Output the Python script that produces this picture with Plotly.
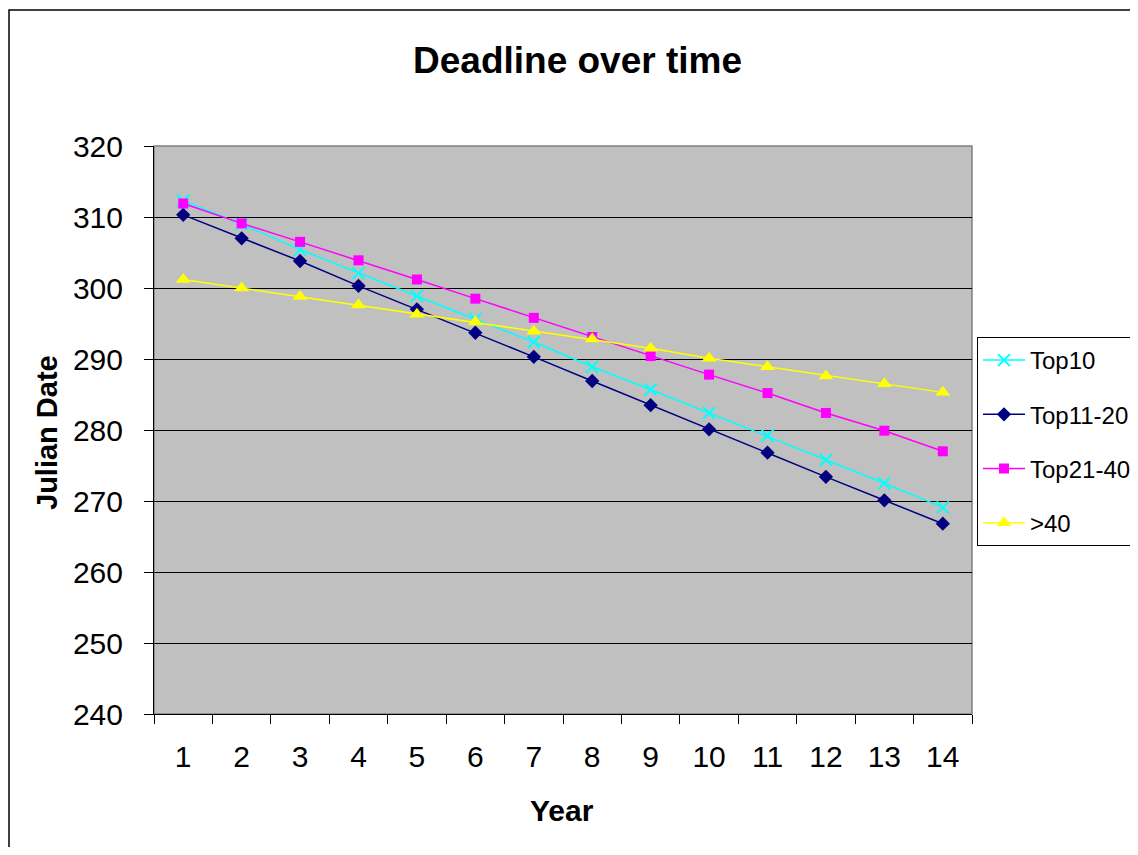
import plotly.graph_objects as go

years = [str(i) for i in range(1, 15)]
top10 = [312.3, 309.0, 305.4, 302.1, 298.9, 295.6, 292.4, 288.9, 285.7, 282.4, 279.2, 275.8, 272.5, 269.1]
top11_20 = [310.3, 307.0, 303.8, 300.3, 297.0, 293.7, 290.3, 286.9, 283.5, 280.1, 276.8, 273.4, 270.1, 266.8]
top21_40 = [311.9, 309.1, 306.5, 303.9, 301.2, 298.5, 295.8, 293.1, 290.4, 287.8, 285.2, 282.4, 279.9, 277.0]
over40 = [301.2, 300.0, 298.8, 297.6, 296.3, 295.2, 293.9, 292.8, 291.5, 290.1, 288.9, 287.6, 286.5, 285.3]

yticks = [240, 250, 260, 270, 280, 290, 300, 310, 320]

FONT = "Liberation Sans, Arial, sans-serif"

series = [
    ("Top10", top10, "#00FFFF", "x-thin", 12, 2),
    ("Top11-20", top11_20, "#000080", "diamond", 11, 0),
    ("Top21-40", top21_40, "#FF00FF", "square", 10, 0),
    (">40", over40, "#FFFF00", "triangle-up", 13, 0),
]

fig = go.Figure()
for i, (name, vals, color, sym, size, lw) in enumerate(series):
    fig.add_trace(go.Scatter(
        x=years, y=vals, name=name, mode="lines+markers",
        legendgroup=f"g{i}",
        line=dict(color=color, width=1.5),
        marker=dict(symbol=sym, size=size, color=color,
                    line=dict(color=color, width=lw)),
    ))

# page offset of 8px (body margin)
OFF = 8
L, R, T, B = 154 - OFF, 972 - OFF, 146 - OFF, 714 - OFF
W, H = 1122, 839

def px(x):
    return (x - OFF - L) / (R - L)

def py(y):
    return (B - (y - OFF)) / (B - T)

fig.update_layout(
    width=W, height=H,
    margin=dict(l=L, r=W - R, t=T, b=H - B, autoexpand=False),
    paper_bgcolor="white",
    plot_bgcolor="#C0C0C0",
    font=dict(family=FONT, color="black"),
    showlegend=True,
    legend=dict(
        xref="container", yref="container",
        x=(977 - OFF) / W, y=1 - (337 - OFF) / H, xanchor="left", yanchor="top",
        bgcolor="white", bordercolor="black", borderwidth=1,
        font=dict(size=24, family=FONT, color="black"),
        tracegroupgap=20, traceorder="grouped", itemwidth=42,
    ),
    xaxis=dict(
        type="category", tickson="boundaries", ticks="outside",
        ticklen=9, tickcolor="black", showline=True, linecolor="black",
        linewidth=1, showgrid=False, tickfont=dict(size=30),
        ticklabelstandoff=16, range=[-0.5, 13.5], fixedrange=True,
    ),
    yaxis=dict(
        range=[240, 320], tickvals=yticks, ticks="outside", ticklen=9,
        tickcolor="black", showline=True, linecolor="black", linewidth=1,
        showgrid=True, gridcolor="black", gridwidth=1, zeroline=False,
        tickfont=dict(size=30), ticklabelstandoff=15,
    ),
    shapes=[
        dict(type="rect", xref="paper", yref="paper", x0=0, x1=1, y0=0, y1=1,
             line=dict(color="#808080", width=1.5), layer="below"),
        dict(type="rect", xref="paper", yref="paper",
             x0=px(9), x1=px(1160), y0=py(10), y1=py(880),
             line=dict(color="black", width=1.5)),
    ],
    annotations=[
        dict(text="<b>Deadline over time</b>", xref="paper", yref="paper",
             x=px(577), y=py(61), xanchor="center", yanchor="middle",
             showarrow=False, font=dict(size=37, family=FONT)),
        dict(text="<b>Julian Date</b>", xref="paper", yref="paper",
             x=px(47), y=py(433), xanchor="center", yanchor="middle",
             textangle=-90, showarrow=False, font=dict(size=29, family=FONT)),
        dict(text="<b>Year</b>", xref="paper", yref="paper",
             x=px(562), y=py(810), xanchor="center", yanchor="middle",
             showarrow=False, font=dict(size=30, family=FONT)),
    ],
)

fig.write_html("out.html")
